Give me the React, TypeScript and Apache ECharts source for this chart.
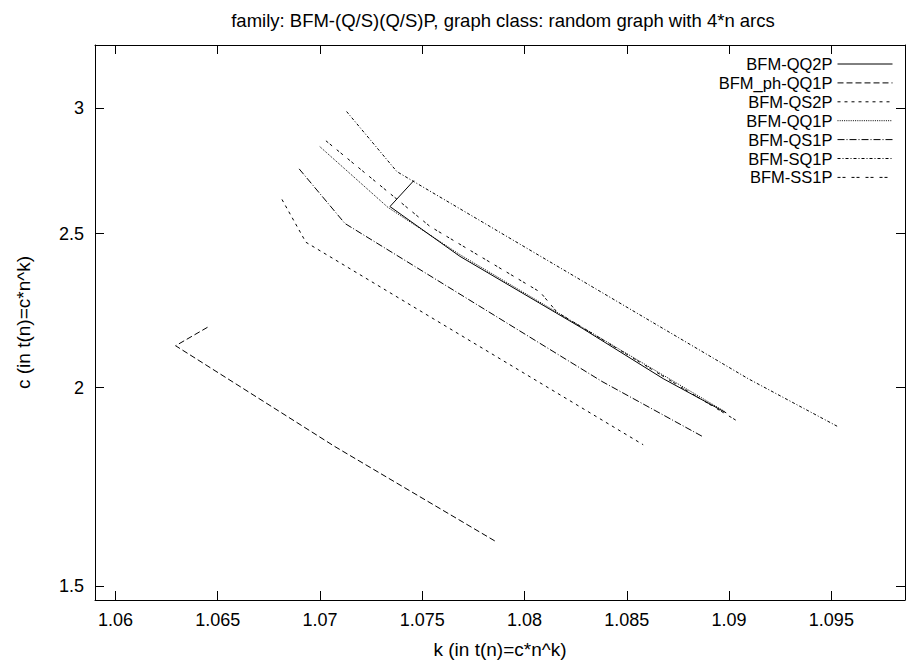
import React, { useEffect, useRef } from "react";
import * as echarts from "echarts";

const titleText = "family: BFM-(Q/S)(Q/S)P, graph class: random graph with 4*n arcs";
const xName = "k (in t(n)=c*n^k)";
const yName = "c (in t(n)=c*n^k)";

const xTicks = [1.06, 1.065, 1.07, 1.075, 1.08, 1.085, 1.09, 1.095];
const yTicks = [1.5, 2, 2.5, 3];
const xRange = [1.059, 1.0986];
const yRange = [1.47, 3.286];

const seriesNames = ["BFM-QQ2P", "BFM_ph-QQ1P", "BFM-QS2P", "BFM-QQ1P", "BFM-QS1P", "BFM-SQ1P", "BFM-SS1P"];

const qq2pK = [1.07459, 1.07342, 1.07684, 1.08281, 1.08678, 1.08986];
const qq2pC = [2.7, 2.6, 2.419, 2.18, 2.026, 1.928];

const phqq1pK = [1.0645, 1.06294, 1.07073, 1.07856];
const phqq1pC = [2.1826, 2.125, 1.836, 1.601];

const qs2pK = [1.06814, 1.06931, 1.0858];
const qs2pC = [2.627, 2.469, 1.841];

const qq1pK = [1.06999, 1.07332, 1.07684, 1.08281, 1.08981];
const qq1pC = [2.836, 2.597, 2.425, 2.183, 1.931];

const qs1pK = [1.06898, 1.07122, 1.08378, 1.08867];
const qs1pC = [2.746, 2.537, 2.018, 1.864];

const sq1pK = [1.0713, 1.07376, 1.09093, 1.09535];
const sq1pC = [2.984, 2.735, 2.026, 1.889];

const ss1pK = [1.07029, 1.07538, 1.08076, 1.08159, 1.09045];
const ss1pC = [2.86, 2.526, 2.297, 2.231, 1.9036];

const allK = [qq2pK, phqq1pK, qs2pK, qq1pK, qs1pK, sq1pK, ss1pK];
const allC = [qq2pC, phqq1pC, qs2pC, qq1pC, qs1pC, sq1pC, ss1pC];

const dashes: (string | number[])[] = [
  "solid",
  [6, 3],
  [3, 4],
  [1, 1.2],
  [7, 2, 1, 2],
  [3, 2, 1, 2],
  [3, 2, 3, 6],
];

const FONT = "'Liberation Sans', Arial, Helvetica, sans-serif";
const legendRowCenters = [64, 82.9, 101.8, 120.7, 139.6, 158.5, 177.4];

export default function App() {
  const ref = useRef<HTMLDivElement>(null);
  useEffect(() => {
    if (!ref.current) return;
    const chart = echarts.init(ref.current, undefined, { renderer: "svg" });
    const axisLineStyle = { color: "#000", width: 1 };
    const xLabelFmt = (v: number) => String(parseFloat(v.toFixed(4)));
    const yLabelFmt = (v: number) => String(Math.round(Math.exp(v) * 100) / 100);
    const yLogTicks = yTicks.map((v) => Math.log(v));
    const option: any = {
      animation: false,
      backgroundColor: "#fff",
      textStyle: { fontFamily: FONT },
      graphic: [
        {
          type: "text",
          x: 503,
          y: 20,
          style: {
            text: titleText,
            fill: "#000",
            font: `18.5px ${FONT}`,
            textAlign: "center",
            textVerticalAlign: "middle",
          },
        },
      ],
      grid: { left: 95, right: 1, top: 45, bottom: 62, containLabel: false },
      xAxis: [
        {
          type: "value",
          min: xRange[0],
          max: xRange[1],
          position: "bottom",
          axisLine: { show: true, onZero: false, lineStyle: axisLineStyle },
          axisTick: { show: true, inside: true, length: 9, customValues: xTicks, lineStyle: axisLineStyle },
          axisLabel: { customValues: xTicks, formatter: xLabelFmt, fontSize: 18, color: "#000", margin: 11, fontFamily: FONT },
          splitLine: { show: false },
          name: xName,
          nameLocation: "middle",
          nameGap: 40,
          nameTextStyle: { fontSize: 19, color: "#000", fontFamily: FONT },
        },
        {
          type: "value",
          min: xRange[0],
          max: xRange[1],
          position: "top",
          axisLine: { show: true, onZero: false, lineStyle: axisLineStyle },
          axisTick: { show: true, inside: true, length: 9, customValues: xTicks, lineStyle: axisLineStyle },
          axisLabel: { show: false },
          splitLine: { show: false },
        },
      ],
      yAxis: [
        {
          type: "value",
          min: Math.log(yRange[0]),
          max: Math.log(yRange[1]),
          position: "left",
          axisLine: { show: true, onZero: false, lineStyle: axisLineStyle },
          axisTick: { show: true, inside: true, length: 9, customValues: yLogTicks, lineStyle: axisLineStyle },
          axisLabel: { customValues: yLogTicks, formatter: yLabelFmt, fontSize: 18, color: "#000", margin: 11, fontFamily: FONT },
          splitLine: { show: false },
          name: yName,
          nameLocation: "middle",
          nameGap: 62,
          nameRotate: 90,
          nameTextStyle: { fontSize: 19, color: "#000", fontFamily: FONT },
        },
        {
          type: "value",
          min: Math.log(yRange[0]),
          max: Math.log(yRange[1]),
          position: "right",
          axisLine: { show: true, onZero: false, lineStyle: axisLineStyle },
          axisTick: { show: true, inside: true, length: 9, customValues: yLogTicks, lineStyle: axisLineStyle },
          axisLabel: { show: false },
          splitLine: { show: false },
        },
      ],
      legend: seriesNames.map((name, i) => ({
        data: [name],
        orient: "vertical",
        align: "right",
        right: 13,
        top: legendRowCenters[i] - 8.5,
        padding: 0,
        itemWidth: 55,
        itemHeight: 10,
        selectedMode: false,
        itemStyle: { color: "rgba(0,0,0,0)", borderWidth: 0, opacity: 0 },
        lineStyle: { width: 1 },
        textStyle: { fontSize: 16.5, color: "#000", fontFamily: FONT, lineHeight: 17 },
      })),
      series: seriesNames.map((name, i) => ({
        name,
        type: "line",
        xAxisIndex: 0,
        yAxisIndex: 0,
        symbol: "none",
        showSymbol: false,
        color: "#000",
        lineStyle: { color: "#000", width: 1, type: dashes[i] },
        data: allK[i].map((k, j) => [k, Math.log(allC[i][j])]),
      })),
    };
    chart.setOption(option);
    return () => chart.dispose();
  }, []);
  return (
    <div
      ref={ref}
      style={{ position: "fixed", left: 0, top: 0, width: 906, height: 664, background: "#fff" }}
    />
  );
}
